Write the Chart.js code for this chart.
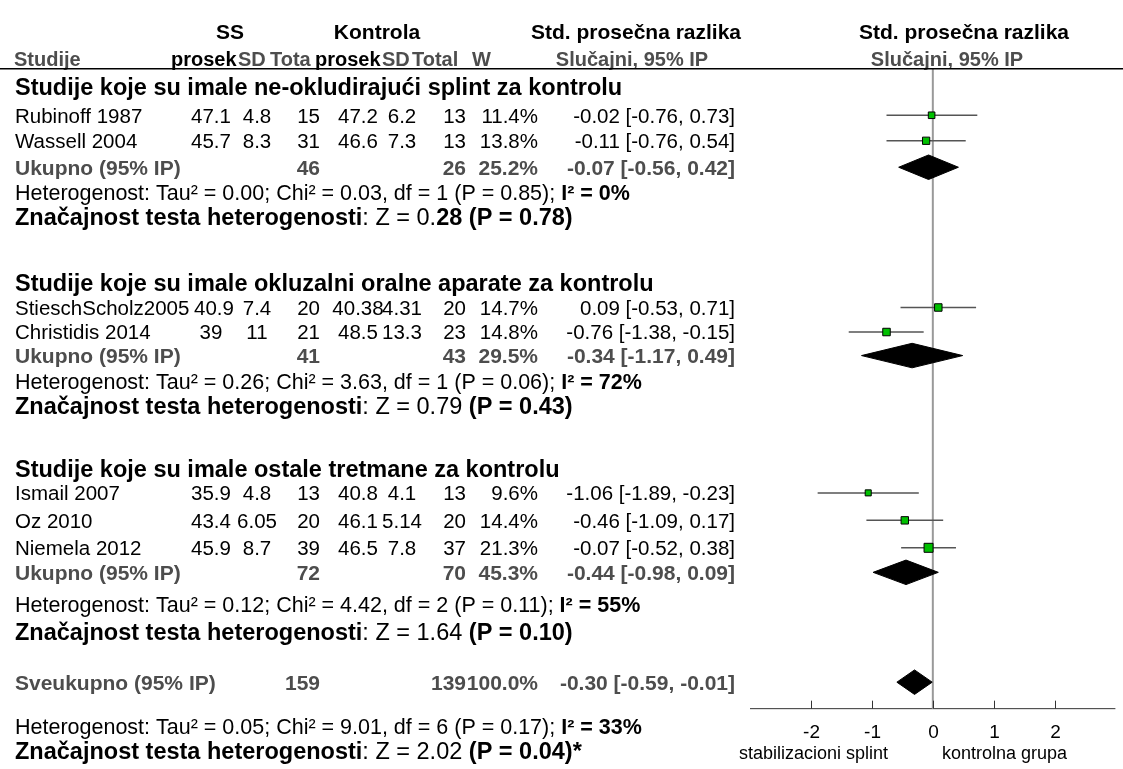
<!DOCTYPE html>
<html>
<head>
<meta charset="utf-8">
<script src="https://cdn.jsdelivr.net/npm/chart.js@4.4.0/dist/chart.umd.min.js"></script>
<style>
  html, body { margin: 0; padding: 0; background: #fff; }
  #wrap { width: 1123px; height: 769px; }
</style>
</head>
<body>
<div id="wrap"><canvas id="forest" width="1123" height="769"></canvas></div>
<script>
// ---- data ----
const studies = ["Rubinoff 1987", "Wassell 2004", "StieschScholz2005", "Christidis 2014", "Ismail 2007", "Oz 2010", "Niemela 2012"];
const expMean = ["47.1", "45.7", "40.9", "39", "35.9", "43.4", "45.9"];
const expSD = ["4.8", "8.3", "7.4", "11", "4.8", "6.05", "8.7"];
const expN = [15, 31, 20, 21, 13, 20, 39];
const ctlMean = ["47.2", "46.6", "40.38", "48.5", "40.8", "46.1", "46.5"];
const ctlSD = ["6.2", "7.3", "4.31", "13.3", "4.1", "5.14", "7.8"];
const ctlN = [13, 13, 20, 23, 13, 20, 37];
const weights = [11.4, 13.8, 14.7, 14.8, 9.6, 14.4, 21.3];
const smd = [-0.02, -0.11, 0.09, -0.76, -1.06, -0.46, -0.07];
const ciLow = [-0.76, -0.76, -0.53, -1.38, -1.89, -1.09, -0.52];
const ciHigh = [0.73, 0.54, 0.71, -0.15, -0.23, 0.17, 0.38];

const groupTitles = [
  "Studije koje su imale ne-okludirajući splint za kontrolu",
  "Studije koje su imale okluzalni oralne aparate za kontrolu",
  "Studije koje su imale ostale tretmane za kontrolu"
];
const groupExpN = [46, 41, 72];
const groupCtlN = [26, 43, 70];
const groupWeight = [25.2, 29.5, 45.3];
const groupSmd = [-0.07, -0.34, -0.44];
const groupLow = [-0.56, -1.17, -0.98];
const groupHigh = [0.42, 0.49, 0.09];

// heterogeneity: 3 subgroups + overall
const tau2 = [0.00, 0.26, 0.12, 0.05];
const chi2 = [0.03, 3.63, 4.42, 9.01];
const dfs = [1, 1, 2, 6];
const pHet = [0.85, 0.06, 0.11, 0.17];
const i2 = [0, 72, 55, 33];
const zVal = [0.28, 0.79, 1.64, 2.02];
const pZ = [0.78, 0.43, 0.10, 0.04];

const totalExpN = 159;
const totalCtlN = 139;
const totalSmd = -0.30;
const totalLow = -0.59;
const totalHigh = -0.01;

const xTicks = [-2, -1, 0, 1, 2];

// ---- layout (y in row units of 25px) ----
const studyRow = [4.4, 5.44, 12.24, 13.24, 19.8, 20.92, 22.04];
const titleRow = [3.24, 11.24, 18.8];
const totalRow = [6.52, 14.2, 23.04];
const hetRow = [7.52, 15.24, 24.36, 29.32];
const testRow = [8.52, 16.24, 25.44, 30.32];
const overallRow = 27.52;
const headRow1 = 1.0, headRow2 = 2.08, headLine = 2.5, axisRow = 28.6;

const FONT = "'Liberation Sans', Arial, sans-serif";
const GRAY = "#4d4d4d";

// ---- datasets ----
const datasets = [];
datasets.push({
  type: "scatter",
  data: smd.map((v, i) => ({ x: v, y: studyRow[i] })),
  pointStyle: "rect",
  pointRadius: weights.map(w => 1.95 * Math.sqrt(w) / 1.414),
  backgroundColor: "#00c000",
  borderColor: "#000",
  borderWidth: 1,
  order: 0
});
smd.forEach((v, i) => {
  datasets.push({
    type: "line",
    data: [{ x: ciLow[i], y: studyRow[i] }, { x: ciHigh[i], y: studyRow[i] }],
    borderColor: "#555",
    borderWidth: 1.5,
    pointRadius: 0,
    order: 1
  });
});
function diamond(lo, est, hi, row) {
  return {
    type: "line",
    data: [{ x: lo, y: row }, { x: est, y: row - 0.5 }, { x: hi, y: row }, { x: est, y: row + 0.5 }, { x: lo, y: row }],
    borderColor: "#000",
    borderWidth: 1,
    backgroundColor: "#000",
    fill: "shape",
    pointRadius: 0,
    tension: 0,
    order: 1
  };
}
groupSmd.forEach((v, g) => datasets.push(diamond(groupLow[g], v, groupHigh[g], totalRow[g])));
datasets.push(diamond(totalLow, totalSmd, totalHigh, overallRow));
datasets.push({
  type: "line",
  data: [{ x: 0, y: headLine }, { x: 0, y: axisRow }],
  borderColor: "#999",
  borderWidth: 2,
  pointRadius: 0,
  order: 2
});
datasets.push({
  type: "line",
  data: [{ x: -3, y: axisRow }, { x: 3, y: axisRow }],
  borderColor: "#333",
  borderWidth: 1,
  pointRadius: 0,
  order: 2
});

function f2(v) { return v.toFixed(2); }
function ciText(e, l, h) { return f2(e) + " [" + f2(l) + ", " + f2(h) + "]"; }

const tablePlugin = {
  id: "table",
  afterDraw(chart) {
    const ctx = chart.ctx;
    const ys = chart.scales.y, xs = chart.scales.x;
    const Y = (row, size) => ys.getPixelForValue(row) + 0.36 * size;
    function put(txt, x, row, size, bold, color, align) {
      ctx.font = (bold ? "bold " : "") + size + "px " + FONT;
      ctx.fillStyle = color || "#000";
      ctx.textAlign = align || "left";
      ctx.fillText(txt, x, Y(row, size));
    }
    function runs(parts, x, row, size) {
      let cx = x;
      ctx.textAlign = "left";
      parts.forEach(([t, b]) => {
        ctx.font = (b ? "bold " : "") + size + "px " + FONT;
        ctx.fillStyle = "#000";
        ctx.fillText(t, cx, Y(row, size));
        cx += ctx.measureText(t).width;
      });
    }
    ctx.save();
    // header
    put("SS", 230, headRow1, 21, true, "#000", "center");
    put("Kontrola", 377, headRow1, 21, true, "#000", "center");
    put("Std. prosečna razlika", 636, headRow1, 21, true, "#000", "center");
    put("Std. prosečna razlika", 964, headRow1, 21, true, "#000", "center");
    put("Studije", 14, headRow2, 20, true, GRAY);
    put("prosek", 171, headRow2, 20, true, "#000");
    put("SD", 238, headRow2, 20, true, GRAY);
    put("Tota", 270, headRow2, 20, true, GRAY);
    put("prosek", 315, headRow2, 20, true, "#000");
    put("SD", 382, headRow2, 20, true, GRAY);
    put("Total", 412, headRow2, 20, true, GRAY);
    put("W", 472, headRow2, 20, true, GRAY);
    put("Slučajni, 95% IP", 632, headRow2, 20, true, GRAY, "center");
    put("Slučajni, 95% IP", 947, headRow2, 20, true, GRAY, "center");
    ctx.strokeStyle = "#000";
    ctx.lineWidth = 1.5;
    ctx.beginPath();
    ctx.moveTo(0, ys.getPixelForValue(headLine));
    ctx.lineTo(1123, ys.getPixelForValue(headLine));
    ctx.stroke();

    // subgroup titles and study rows
    groupTitles.forEach((t, g) => put(t, 15, titleRow[g], 23.5, true));
    studies.forEach((s, i) => {
      const r = studyRow[i], fs = 20.5;
      put(s, 15, r, fs);
      put(expMean[i], i === 2 ? 214 : 211, r, fs, false, "#000", "center");
      put(expSD[i], 257, r, fs, false, "#000", "center");
      put(String(expN[i]), 320, r, fs, false, "#000", "right");
      put(ctlMean[i], 358, r, fs, false, "#000", "center");
      put(ctlSD[i], 402, r, fs, false, "#000", "center");
      put(String(ctlN[i]), 466, r, fs, false, "#000", "right");
      put(weights[i].toFixed(1) + "%", 538, r, fs, false, "#000", "right");
      put(ciText(smd[i], ciLow[i], ciHigh[i]), 735, r, fs, false, "#000", "right");
    });
    groupTitles.forEach((t, g) => {
      const r = totalRow[g], fs = 21;
      put("Ukupno (95% IP)", 15, r, fs, true, GRAY);
      put(String(groupExpN[g]), 320, r, fs, true, GRAY, "right");
      put(String(groupCtlN[g]), 466, r, fs, true, GRAY, "right");
      put(groupWeight[g].toFixed(1) + "%", 538, r, fs, true, GRAY, "right");
      put(ciText(groupSmd[g], groupLow[g], groupHigh[g]), 735, r, fs, true, GRAY, "right");
    });
    // overall
    put("Sveukupno (95% IP)", 15, overallRow, 21, true, GRAY);
    put(String(totalExpN), 320, overallRow, 21, true, GRAY, "right");
    put(String(totalCtlN), 466, overallRow, 21, true, GRAY, "right");
    put("100.0%", 538, overallRow, 21, true, GRAY, "right");
    put(ciText(totalSmd, totalLow, totalHigh), 735, overallRow, 21, true, GRAY, "right");

    // heterogeneity + test lines
    hetRow.forEach((r, k) => {
      runs([["Heterogenost: Tau² = " + f2(tau2[k]) + "; Chi² = " + f2(chi2[k]) + ", df = " + dfs[k] +
             " (P = " + f2(pHet[k]) + "); ", false], ["I² = " + i2[k] + "%", true]], 15, r, 21.5);
      const z = f2(zVal[k]);
      const zParts = k === 0
        ? [["Značajnost testa heterogenosti", true], [": Z = " + z.slice(0, 2), false], [z.slice(2) + " (P = " + f2(pZ[k]) + ")", true]]
        : [["Značajnost testa heterogenosti", true], [": Z = " + z + " ", false], ["(P = " + f2(pZ[k]) + ")" + (k === 3 ? "*" : ""), true]];
      runs(zParts, 15, testRow[k], 23.5);
    });

    // x axis ticks and labels
    const ay = ys.getPixelForValue(axisRow);
    ctx.strokeStyle = "#333";
    ctx.lineWidth = 1;
    xTicks.forEach(t => {
      const px = Math.round(xs.getPixelForValue(t)) + 0.5;
      ctx.beginPath();
      ctx.moveTo(px, ay - 8);
      ctx.lineTo(px, ay);
      ctx.stroke();
      ctx.font = "19px " + FONT;
      ctx.fillStyle = "#000";
      ctx.textAlign = "center";
      ctx.fillText(String(t), px, ay + 29);
    });
    ctx.font = "18px " + FONT;
    ctx.textAlign = "right";
    ctx.fillText("stabilizacioni splint", 888, ay + 50);
    ctx.textAlign = "left";
    ctx.fillText("kontrolna grupa", 942, ay + 50);
    ctx.restore();
  }
};

new Chart(document.getElementById("forest"), {
  type: "scatter",
  data: { datasets: datasets },
  options: {
    responsive: false,
    devicePixelRatio: 1,
    animation: false,
    layout: { padding: { left: 750, right: 1, top: 0, bottom: 0 } },
    plugins: { legend: { display: false }, tooltip: { enabled: false } },
    scales: {
      x: { type: "linear", min: -3, max: 3, display: false },
      y: { type: "linear", min: 0, max: 769 / 25, reverse: true, display: false }
    }
  },
  plugins: [tablePlugin]
});
</script>
</body>
</html>
